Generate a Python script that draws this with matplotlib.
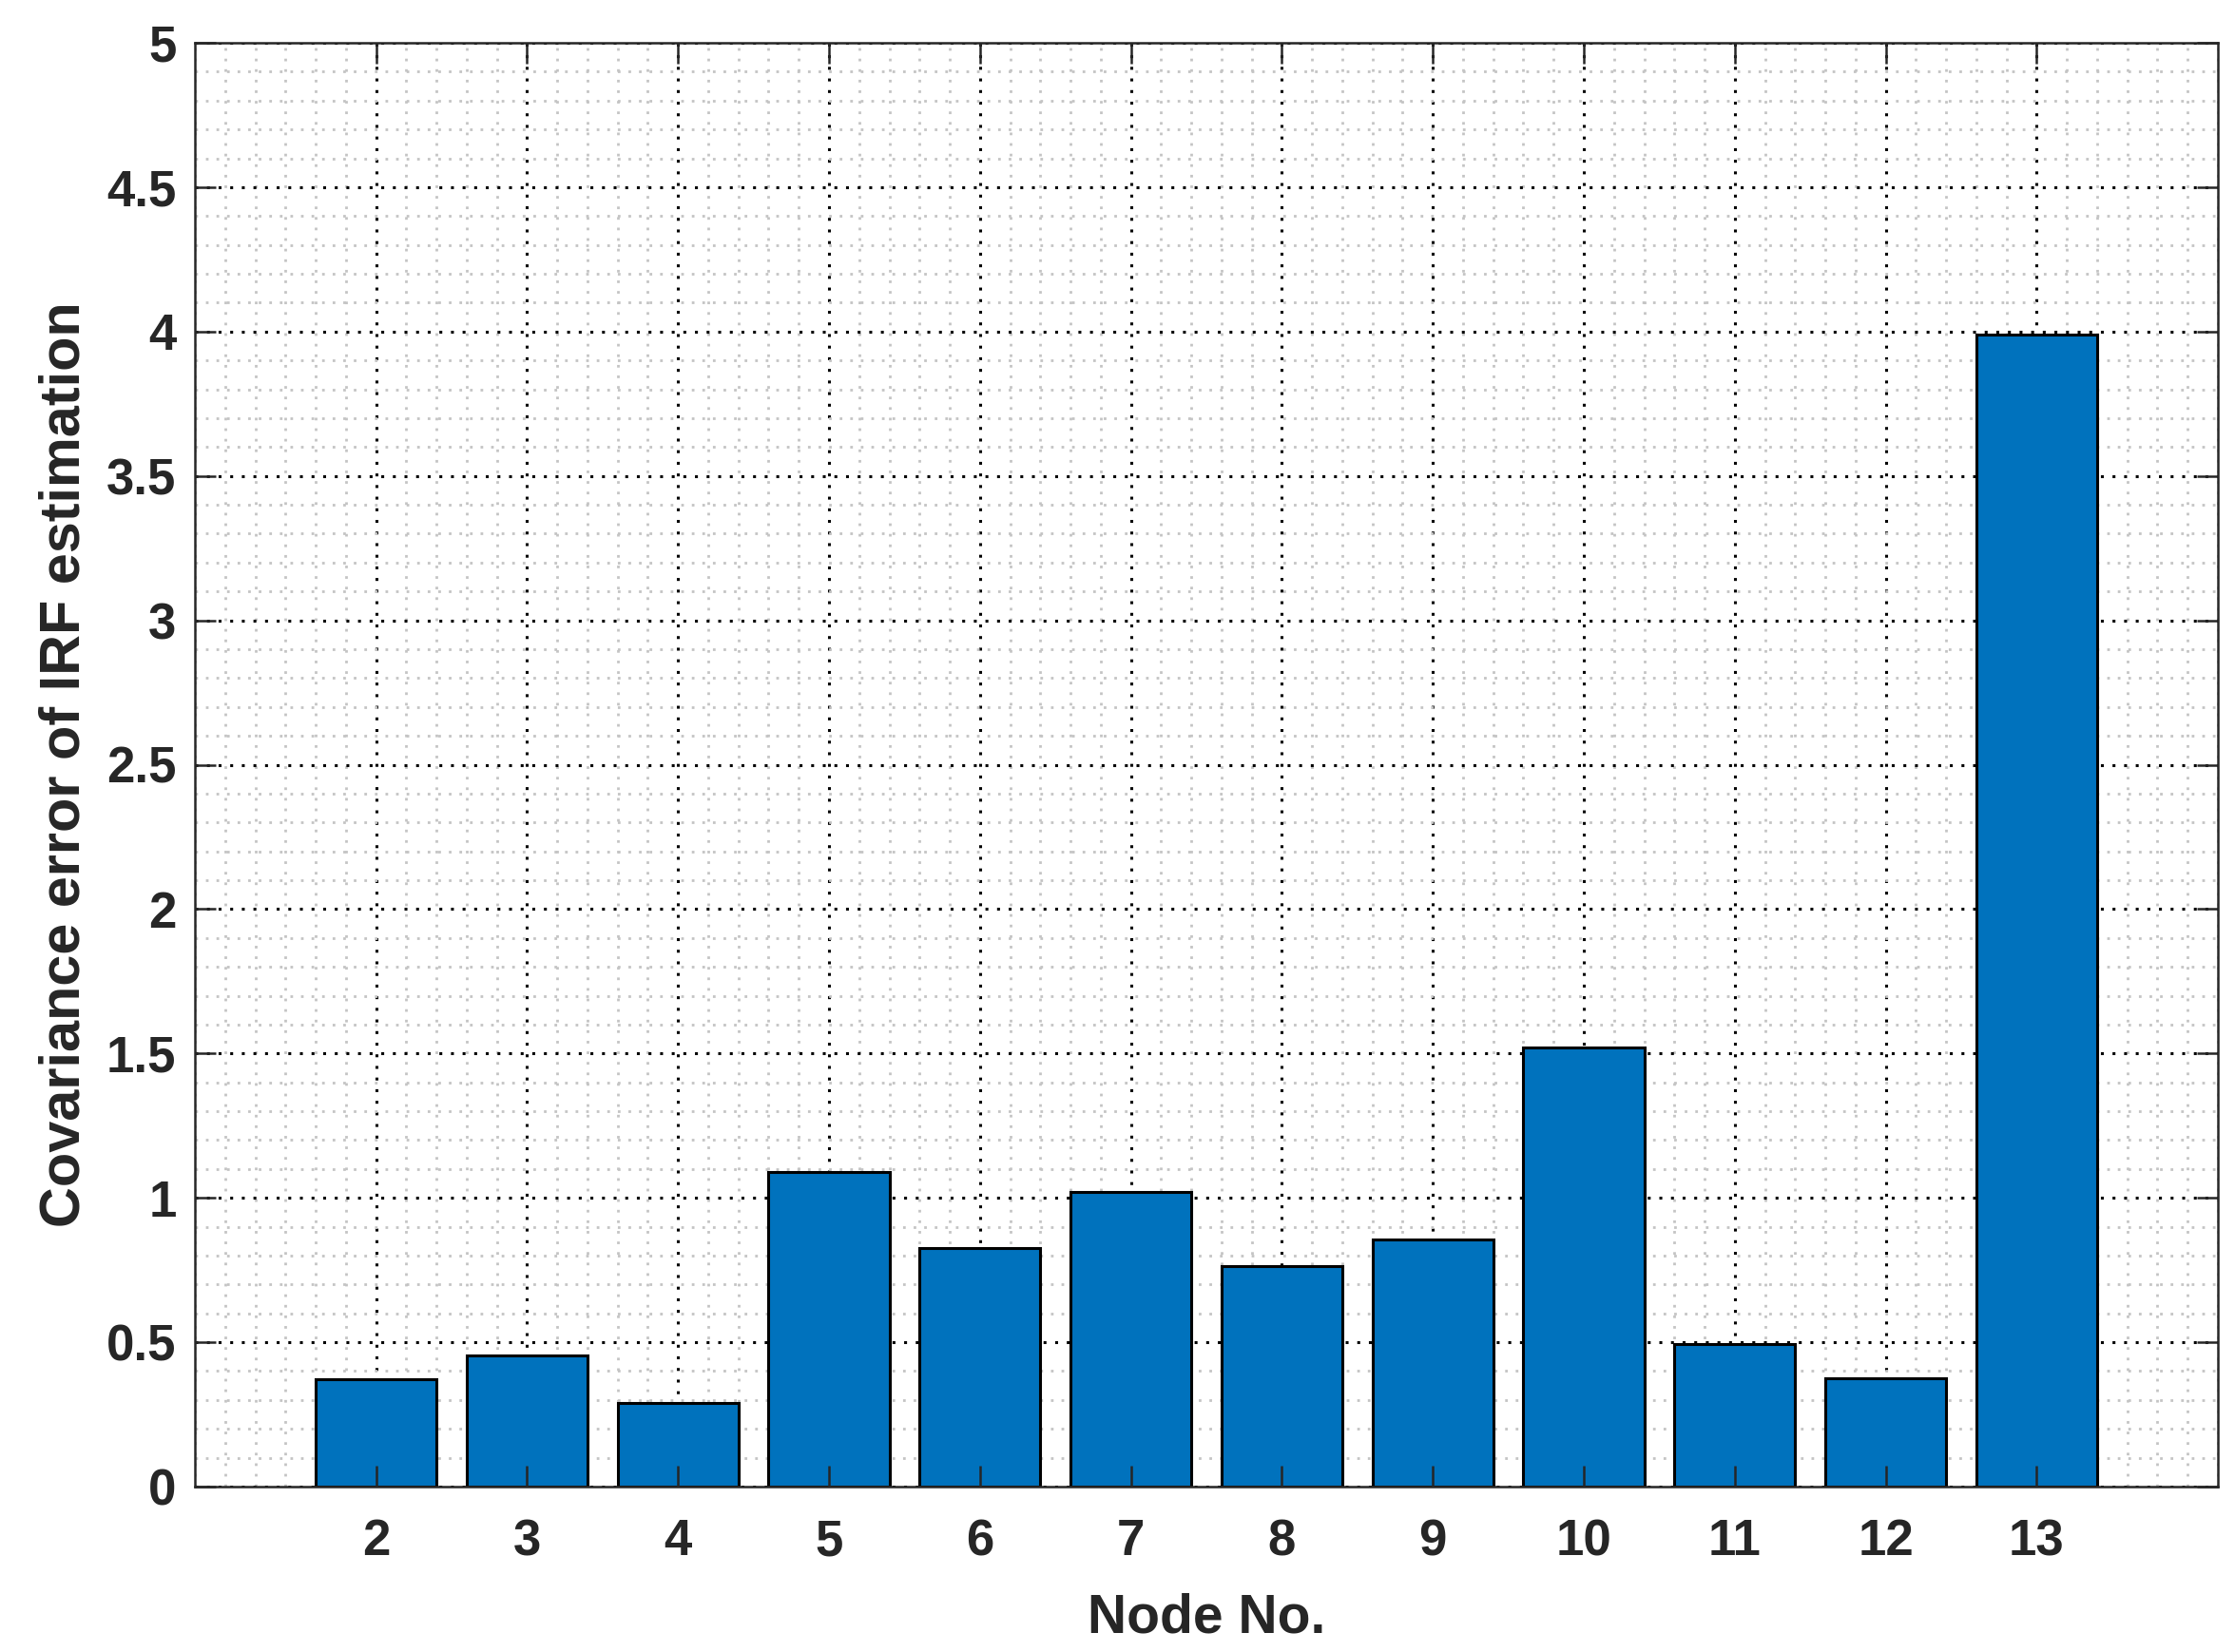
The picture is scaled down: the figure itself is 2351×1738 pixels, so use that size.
import numpy as np
import matplotlib
matplotlib.use('Agg')
import matplotlib.pyplot as plt
from matplotlib.ticker import MultipleLocator, FixedLocator

# dati
nodes = [2, 3, 4, 5, 6, 7, 8, 9, 10, 11, 12, 13]
cov_err = [0.373, 0.455, 0.290, 1.088, 0.826, 1.022, 0.764, 0.857, 1.521, 0.495, 0.375, 3.989]
y_ticks = [0, 0.5, 1, 1.5, 2, 2.5, 3, 3.5, 4, 4.5, 5]
y_ticklabels = ['0', '0.5', '1', '1.5', '2', '2.5', '3', '3.5', '4', '4.5', '5']

txt_col = '#262626'
plt.rcParams['font.family'] = ['Liberation Sans', 'DejaVu Sans']
plt.rcParams['font.weight'] = 'bold'

W, H, dpi = 2351, 1738, 200
fig = plt.figure(figsize=(W / dpi, H / dpi), dpi=dpi)
pos = [205 / W, 1 - 1564 / H, (2333 - 205) / W, (1564 - 45) / H]
ax = fig.add_axes(pos)

ax.bar(nodes, cov_err, width=0.8, color='#0072BD', edgecolor='black', linewidth=1.1, zorder=1)

ax.set_xlim(0.8, 14.2)
ax.set_ylim(0, 5)
ax.xaxis.set_major_locator(FixedLocator(nodes))
ax.xaxis.set_minor_locator(MultipleLocator(0.2))
ax.set_yticks(y_ticks)
ax.set_yticklabels(y_ticklabels)
ax.yaxis.set_minor_locator(MultipleLocator(0.1))

# griglia sotto le barre
ax.set_axisbelow(True)
ax.grid(which='minor', color='#c4c4c4', linestyle=(0, (1, 3)), linewidth=1.0)
ax.grid(which='major', color='black', linestyle=(0, (1, 3)), linewidth=1.1)

ax.tick_params(which='major', direction='in', length=0, labelsize=19, colors=txt_col)
ax.tick_params(which='minor', length=0)
ax.tick_params(axis='x', pad=12)
ax.tick_params(axis='y', pad=7)
for lab in ax.get_xticklabels() + ax.get_yticklabels():
    lab.set_fontweight('bold')
for s in ax.spines.values():
    s.set_visible(False)

ax.set_xlabel('Node No.', fontsize=20.5, fontweight='bold', color=txt_col, labelpad=10)
ax.set_ylabel('Covariance error of IRF estimation', fontsize=21.4, fontweight='bold',
              color=txt_col, labelpad=6)

# assi sovrapposti per tacche e cornice sopra le barre
ov = fig.add_axes(pos, sharex=ax, sharey=ax, facecolor='none')
ov.tick_params(which='major', direction='in', length=7.9, width=0.9, color=txt_col,
               top=True, right=True, labelbottom=False, labelleft=False)
ov.tick_params(which='minor', length=0)
for s in ov.spines.values():
    s.set_linewidth(0.9)
    s.set_color(txt_col)

fig.savefig('out.png', dpi=dpi)
